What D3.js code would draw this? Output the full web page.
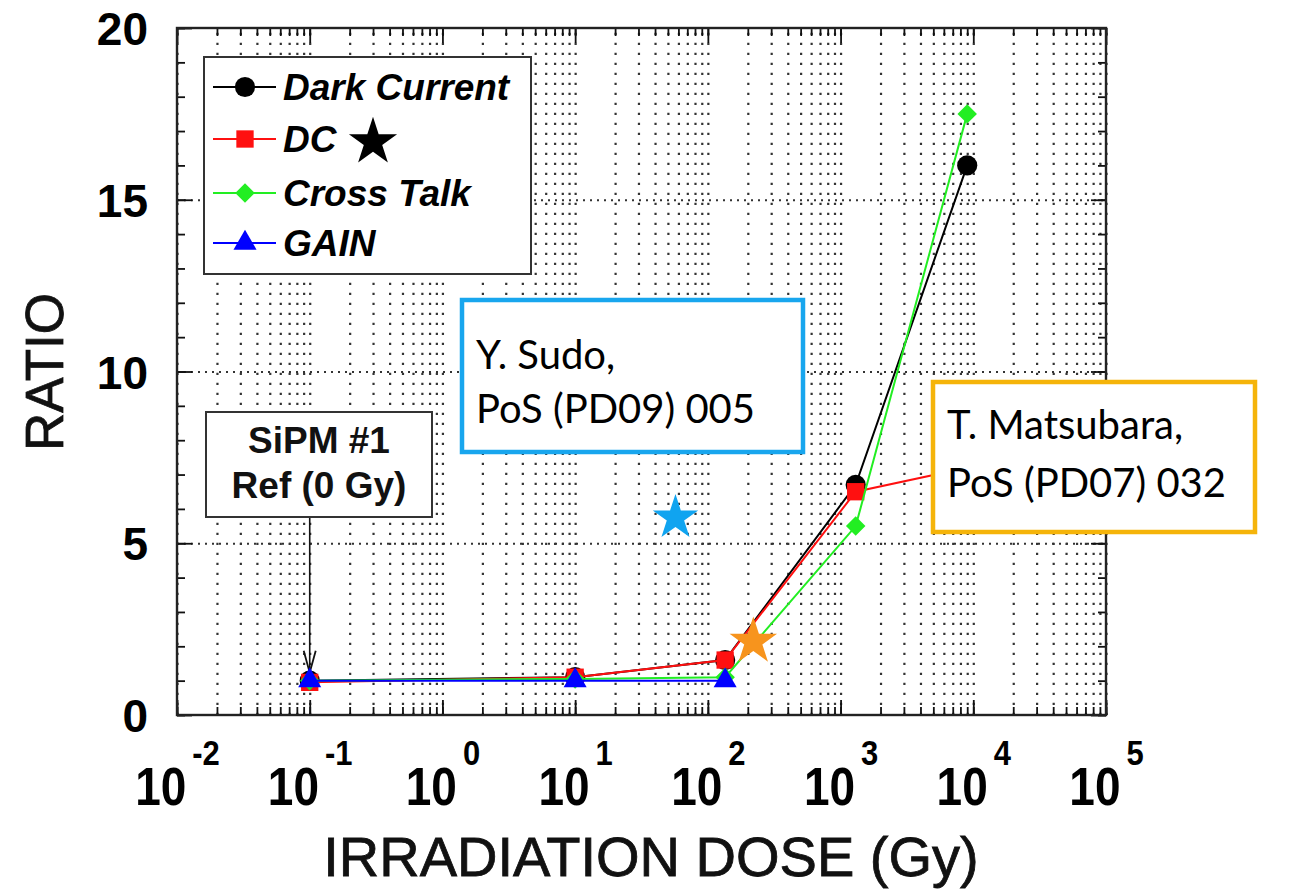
<!DOCTYPE html>
<html>
<head>
<meta charset="utf-8">
<script src="https://cdn.jsdelivr.net/npm/d3@7"></script>
<style>
  html, body { margin: 0; padding: 0; background: #fff; }
  svg { display: block; }
</style>
</head>
<body>
<svg id="chart" width="1293" height="896"></svg>
<script>
// Irradiation dose (Gy) at which each SiPM was measured
const doses = [0.1, 10, 135, 1300, 9000];
const gainDoses = [0.1, 10, 135];

// Ratios relative to the non-irradiated reference
const darkCurrent = [1.0, 1.1, 1.6, 6.7, 16.0];
const dcStar      = [0.95, 1.1, 1.6, 6.5, 7.2];
const crossTalk   = [1.0, 1.05, 1.1, 5.5, 17.5];
const gain        = [1.0, 1.0, 1.0];

// Literature reference points (stars)
const refNames  = ["Y. Sudo", "T. Matsubara"];
const refDoses  = [57, 220];
const refRatios = [5.8, 2.2];

// Axis tick labels
const xDecades = [1e-2, 1e-1, 1e0, 1e1, 1e2, 1e3, 1e4, 1e5];
const xExponents = ["-2", "-1", "0", "1", "2", "3", "4", "5"];
const yMajor = [0, 5, 10, 15, 20];

const svg = d3.select("#chart");
const L = 177, R = 1106, T = 28, B = 715;

const x = d3.scaleLog().domain([1e-2, 1e5]).range([L, R]);
const y = d3.scaleLinear().domain([0, 20]).range([B, T]);

svg.append("rect").attr("width", 1293).attr("height", 896).attr("fill", "#fff");

// ---- dotted grid ----
const grid = svg.append("g");
grid.append("g")
  .attr("transform", `translate(0,${B})`)
  .call(d3.axisBottom(x).tickValues(x.ticks()).tickSize(-(B - T)).tickFormat(""))
  .call(g => g.select(".domain").remove())
  .selectAll("line")
  .attr("stroke", "#333").attr("stroke-width", 2.2)
  .attr("stroke-dasharray", "2.2,7.8");
grid.append("g")
  .attr("transform", `translate(${L},0)`)
  .call(d3.axisLeft(y).tickValues([5, 10, 15]).tickSize(-(R - L)).tickFormat(""))
  .call(g => g.select(".domain").remove())
  .selectAll("line")
  .attr("stroke", "#333").attr("stroke-width", 2)
  .attr("stroke-dasharray", "2,5");

// ---- inner ticks on all four sides ----
const ticks = svg.append("g").attr("stroke-width", 1.8);
const xMinor = x.ticks();
const yMinor = d3.range(0, 21, 1);
function tickAxis(axis, pos, vals, size) {
  ticks.append("g")
    .attr("transform", pos)
    .call(axis.tickValues(vals).tickSizeInner(size).tickSizeOuter(0).tickFormat(""))
    .call(g => g.select(".domain").remove())
    .selectAll("line").attr("stroke", "#111").attr("stroke-width", 1.8);
}
tickAxis(d3.axisBottom(x), `translate(0,${B})`, xMinor, -8);
tickAxis(d3.axisBottom(x), `translate(0,${B})`, xDecades, -15);
tickAxis(d3.axisTop(x), `translate(0,${T})`, xMinor, -8);
tickAxis(d3.axisTop(x), `translate(0,${T})`, xDecades, -15);
tickAxis(d3.axisLeft(y), `translate(${L},0)`, yMinor, -8);
tickAxis(d3.axisLeft(y), `translate(${L},0)`, yMajor, -15);
tickAxis(d3.axisRight(y), `translate(${R},0)`, yMinor, -8);
tickAxis(d3.axisRight(y), `translate(${R},0)`, yMajor, -15);

// frame
svg.append("rect")
  .attr("x", L).attr("y", T).attr("width", R - L).attr("height", B - T)
  .attr("fill", "none").attr("stroke", "#222").attr("stroke-width", 2.4);

// ---- tick labels ----
const stretch = 1.15;
svg.append("g")
  .attr("transform", `translate(0,${B})`)
  .call(d3.axisBottom(x).tickValues(xDecades).tickSize(0).tickFormat(""))
  .call(g => g.select(".domain").remove())
  .selectAll(".tick text")
  .each(function(d, i) {
    const t = d3.select(this);
    t.text(null)
      .attr("y", 90 / stretch).attr("dy", null)
      .attr("transform", `scale(1,${stretch})`)
      .attr("fill", "#000")
      .attr("font-family", "'Liberation Sans', Arial, sans-serif")
      .attr("font-weight", "bold")
      .attr("font-size", 46)
      .attr("text-anchor", "middle");
    t.append("tspan").text("10");
    t.append("tspan").attr("dx", 6).attr("dy", -40 / stretch)
      .attr("font-size", 31).text(xExponents[i]);
  });

svg.append("g")
  .attr("transform", `translate(${L},0)`)
  .call(d3.axisLeft(y).tickValues(yMajor).tickSize(0).tickPadding(29))
  .call(g => g.select(".domain").remove())
  .selectAll(".tick text")
  .attr("fill", "#000")
  .attr("font-family", "'Liberation Sans', Arial, sans-serif")
  .attr("font-weight", "bold")
  .attr("font-size", 46)
  .attr("dy", "0.36em");

// ---- axis titles ----
svg.append("text")
  .attr("transform", "translate(63,372) rotate(-90)")
  .attr("text-anchor", "middle")
  .attr("font-family", "'Liberation Sans', Arial, sans-serif")
  .attr("font-size", 53)
  .attr("fill", "#111").attr("stroke", "#111").attr("stroke-width", 0.8)
  .text("RATIO");
svg.append("text")
  .attr("x", 651).attr("y", 876)
  .attr("text-anchor", "middle")
  .attr("font-family", "'Liberation Sans', Arial, sans-serif")
  .attr("font-size", 56)
  .attr("fill", "#111").attr("stroke", "#111").attr("stroke-width", 0.8)
  .text("IRRADIATION DOSE (Gy)");

// ---- reference annotation with arrow ----
const ax = x(0.1), tipY = y(1.0) - 8;
svg.append("line")
  .attr("x1", ax).attr("x2", ax)
  .attr("y1", 517).attr("y2", tipY)
  .attr("stroke", "#111").attr("stroke-width", 1.6);
svg.append("path")
  .attr("d", `M${ax - 6},${tipY - 22} L${ax},${tipY} L${ax + 6},${tipY - 22}`)
  .attr("fill", "none").attr("stroke", "#111").attr("stroke-width", 1.8);

// ---- series ----
const line = d3.line().x(d => x(d[0])).y(d => y(d[1]));
const series = [
  { name: "Dark Current", color: "#000000", xs: doses, ys: darkCurrent, symbol: d3.symbolCircle, size: 320, rot: 0 },
  { name: "DC",           color: "#ff1010", xs: doses, ys: dcStar,      symbol: d3.symbolSquare, size: 300, rot: 0 },
  { name: "Cross Talk",   color: "#22ee22", xs: doses, ys: crossTalk,   symbol: d3.symbolSquare, size: 190, rot: 45 },
  { name: "GAIN",         color: "#0000ff", xs: gainDoses, ys: gain,    symbol: d3.symbolTriangle, size: 230, rot: 0 }
];

const plot = svg.append("g");
series.forEach(s => {
  const pts = s.xs.map((v, i) => [v, s.ys[i]]);
  plot.append("path").datum(pts)
    .attr("d", line).attr("fill", "none")
    .attr("stroke", s.color).attr("stroke-width", 2);
  plot.selectAll(null).data(pts).enter().append("path")
    .attr("d", d3.symbol().type(s.symbol).size(s.size))
    .attr("transform", d => `translate(${x(d[0])},${y(d[1])}) rotate(${s.rot})`)
    .attr("fill", s.color);
});

// ---- legend ----
const lg = svg.append("g");
lg.append("rect").attr("x", 204).attr("y", 57).attr("width", 327).attr("height", 217)
  .attr("fill", "#fff").attr("stroke", "#333").attr("stroke-width", 2);
const rowsY = [87, 139, 193, 243];
series.forEach((s, i) => {
  const ry = rowsY[i];
  lg.append("line").attr("x1", 213).attr("x2", 276).attr("y1", ry).attr("y2", ry)
    .attr("stroke", s.color).attr("stroke-width", 2);
  lg.append("path")
    .attr("d", d3.symbol().type(s.symbol).size(s.size))
    .attr("transform", `translate(245,${ry}) rotate(${s.rot})`)
    .attr("fill", s.color);
  lg.append("text").attr("x", 283).attr("y", ry + 13)
    .attr("font-family", "'Liberation Sans', Arial, sans-serif")
    .attr("font-weight", "bold").attr("font-style", "italic")
    .attr("font-size", 37).attr("fill", "#000")
    .text(s.name);
});
lg.append("path")
  .attr("d", d3.symbol().type(d3.symbolStar).size(720))
  .attr("transform", `translate(373,${rowsY[1] + 3})`)
  .attr("fill", "#000");

// ---- SiPM #1 box ----
const sb = svg.append("g");
sb.append("rect").attr("x", 206).attr("y", 412).attr("width", 226).attr("height", 105)
  .attr("fill", "#fff").attr("stroke", "#333").attr("stroke-width", 2);
sb.selectAll("text").data(["SiPM #1", "Ref (0 Gy)"]).enter().append("text")
  .attr("x", 319).attr("y", (d, i) => 453 + i * 45)
  .attr("text-anchor", "middle")
  .attr("font-family", "'Liberation Sans', Arial, sans-serif")
  .attr("font-weight", "bold").attr("font-size", 37).attr("fill", "#111")
  .text(d => d);

// ---- literature stars ----
const starColors = ["#10a4f0", "#f7941d"];
svg.selectAll(".refstar").data(refDoses).enter().append("path")
  .attr("class", "refstar")
  .attr("d", (d, i) => d3.symbol().type(d3.symbolStar).size(i === 0 ? 640 : 700)())
  .attr("transform", (d, i) => `translate(${x(d)},${y(refRatios[i]) + 2})`)
  .attr("fill", (d, i) => starColors[i]);

// ---- citation boxes ----
const boxes = [
  { x: 462, y: 300, w: 341, h: 152, color: "#18a6ee", lines: ["Y. Sudo,", "PoS (PD09) 005"], base: [369, 423] },
  { x: 933, y: 382, w: 322, h: 150, color: "#f5b40a", lines: ["T. Matsubara,", "PoS (PD07) 032"], base: [439, 497] }
];
boxes.forEach(b => {
  const g = svg.append("g");
  g.append("rect").attr("x", b.x).attr("y", b.y).attr("width", b.w).attr("height", b.h)
    .attr("fill", "#fff").attr("stroke", b.color).attr("stroke-width", 4.5);
  g.selectAll("text").data(b.lines).enter().append("text")
    .attr("x", b.x + 14).attr("y", (d, i) => b.base[i])
    .attr("font-family", "Lato, 'Open Sans', sans-serif")
    .attr("font-size", 40).attr("fill", "#000")
    .text(d => d);
});
</script>
</body>
</html>
